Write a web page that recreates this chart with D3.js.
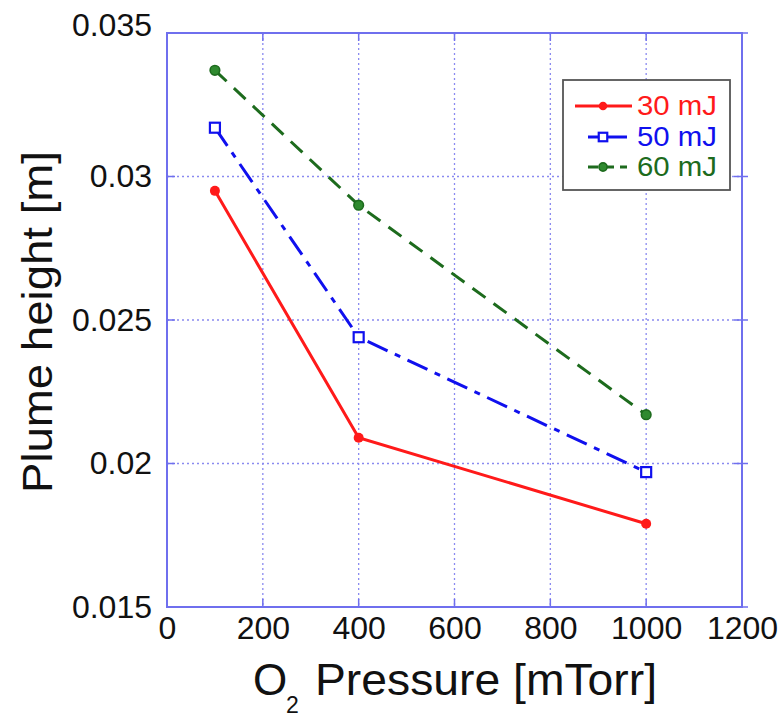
<!DOCTYPE html>
<html><head><meta charset="utf-8">
<script src="https://cdn.jsdelivr.net/npm/d3@7"></script>
<style>body{margin:0;background:#fff}</style>
</head><body>
<svg id="c" width="782" height="720"></svg>
<script>
const pressures = [100, 400, 1000];
const series30 = [0.0295, 0.0209, 0.0179];
const series50 = [0.0317, 0.0244, 0.0197];
const series60 = [0.0337, 0.0290, 0.0217];
const seriesNames = ["30 mJ", "50 mJ", "60 mJ"];
const xTicks = [0, 200, 400, 600, 800, 1000, 1200];
const yTicks = [0.015, 0.02, 0.025, 0.03, 0.035];
const yTickLabels = ["0.015", "0.02", "0.025", "0.03", "0.035"];

const svg = d3.select("#c");
const L = 167, R = 742, T = 33, B = 607;
const x = d3.scaleLinear().domain([0, 1200]).range([L, R]);
const y = d3.scaleLinear().domain([0.015, 0.035]).range([B, T]);
const font = "'Liberation Sans', Arial, sans-serif";
const gridCol = "#8a8af0";
const axCol = "#6f6fee";

// grid
const g = svg.append("g");
g.selectAll(".vg").data(xTicks.slice(1, -1)).enter().append("line")
  .attr("x1", d => x(d)).attr("x2", d => x(d)).attr("y1", T).attr("y2", B)
  .attr("stroke", gridCol).attr("stroke-width", 1.3).attr("stroke-dasharray", "2,3");
g.selectAll(".hg").data(yTicks.slice(1, -1)).enter().append("line")
  .attr("y1", d => y(d)).attr("y2", d => y(d)).attr("x1", L).attr("x2", R)
  .attr("stroke", gridCol).attr("stroke-width", 1.3).attr("stroke-dasharray", "2,3");

// axes (labels only; tick marks drawn below)
const xAxis = d3.axisBottom(x).tickValues(xTicks).tickSize(0).tickPadding(9).tickFormat(d3.format("d"));
const yAxis = d3.axisLeft(y).tickValues(yTicks).tickSize(0).tickPadding(15).tickFormat((d, i) => yTickLabels[i]);
const xa = svg.append("g").attr("transform", `translate(0,${B})`).call(xAxis);
const ya = svg.append("g").attr("transform", `translate(${L},0)`).call(yAxis);
[xa, ya].forEach(a => {
  a.select(".domain").remove();
  a.selectAll("text").attr("fill", "#111").style("font-family", font).style("font-size", "32px");
});
ya.selectAll(".tick text").filter(d => d === 0.035).attr("dy", "0.07em");

// tick marks on all four sides
const tk = svg.append("g").attr("stroke", axCol).attr("stroke-width", 1.5);
tk.selectAll(".yl").data(yTicks).enter().append("line")
  .attr("x1", L).attr("x2", L + 8).attr("y1", d => y(d)).attr("y2", d => y(d));
tk.selectAll(".yr").data(yTicks).enter().append("line")
  .attr("x1", R - 8).attr("x2", R + 6).attr("y1", d => y(d)).attr("y2", d => y(d));
tk.selectAll(".xb").data(xTicks).enter().append("line")
  .attr("y1", B - 8).attr("y2", B).attr("x1", d => x(d)).attr("x2", d => x(d));
tk.selectAll(".xt").data(xTicks).enter().append("line")
  .attr("y1", T).attr("y2", T + 8).attr("x1", d => x(d)).attr("x2", d => x(d));

// frame
svg.append("rect").attr("x", L).attr("y", T).attr("width", R - L).attr("height", B - T)
  .attr("fill", "none").attr("stroke", axCol).attr("stroke-width", 2);

// series
const cfg = [
  {vals: series30, color: "#ff1a1a", dash: null, marker: "dot"},
  {vals: series50, color: "#1010ee", dash: "22,8,6,8", marker: "square"},
  {vals: series60, color: "#1d6b1d", dash: "16,10", marker: "dot2"}
];
const line = d3.line().x(d => x(d[0])).y(d => y(d[1]));
function marker(sel, type, color, cx, cy, s) {
  if (type === "square") {
    sel.append("rect").attr("x", cx - 5 * s).attr("y", cy - 5 * s).attr("width", 10 * s).attr("height", 10 * s)
      .attr("fill", "#fff").attr("stroke", color).attr("stroke-width", 2.2);
  } else if (type === "dot2") {
    sel.append("circle").attr("cx", cx).attr("cy", cy).attr("r", 4.8 * s).attr("fill", "#2f8a2f").attr("stroke", color).attr("stroke-width", 1.6);
  } else {
    sel.append("circle").attr("cx", cx).attr("cy", cy).attr("r", 5 * s).attr("fill", color);
  }
}
cfg.forEach(c => {
  const pts = pressures.map((p, i) => [p, c.vals[i]]);
  svg.append("path").attr("d", line(pts)).attr("fill", "none").attr("stroke", c.color)
    .attr("stroke-width", 3).attr("stroke-dasharray", c.dash);
  const mg = svg.append("g");
  pts.forEach(p => marker(mg, c.marker, c.color, x(p[0]), y(p[1]), 1));
});

// legend
const lg = svg.append("g");
lg.append("rect").attr("x", 563).attr("y", 80).attr("width", 167).attr("height", 110)
  .attr("fill", "#fff").attr("stroke", "#555").attr("stroke-width", 1.8);
const lgY = [106, 137, 167];
cfg.forEach((c, i) => {
  const x1 = i === 0 ? 575 : 588;
  const x2 = i === 0 ? 632 : 627;
  lg.append("line").attr("x1", x1).attr("x2", x2).attr("y1", lgY[i]).attr("y2", lgY[i])
    .attr("stroke", c.color).attr("stroke-width", 3)
    .attr("stroke-dasharray", i === 2 ? "10,6" : null);
  marker(lg, c.marker, c.color, 603, lgY[i], 0.85);
  lg.append("text").attr("x", 637).attr("y", lgY[i] + 9).text(seriesNames[i])
    .attr("fill", c.color).style("font-family", font).style("font-size", "27px")
    .attr("textLength", 80).attr("lengthAdjust", "spacingAndGlyphs");
});

// axis titles
svg.append("text").attr("transform", "translate(52,322) rotate(-90)").attr("text-anchor", "middle")
  .style("font-family", font).style("font-size", "42px").attr("fill", "#111")
  .attr("textLength", 342).attr("lengthAdjust", "spacingAndGlyphs").text("Plume height [m]");
const xt = svg.append("g").style("font-family", font).attr("fill", "#111");
xt.append("text").attr("x", 253).attr("y", 695).style("font-size", "44px").text("O");
xt.append("text").attr("x", 286).attr("y", 713).style("font-size", "23px").text("2");
xt.append("text").attr("x", 315).attr("y", 695).style("font-size", "44px")
  .attr("textLength", 342).attr("lengthAdjust", "spacingAndGlyphs").text("Pressure [mTorr]");
</script>
</body></html>
